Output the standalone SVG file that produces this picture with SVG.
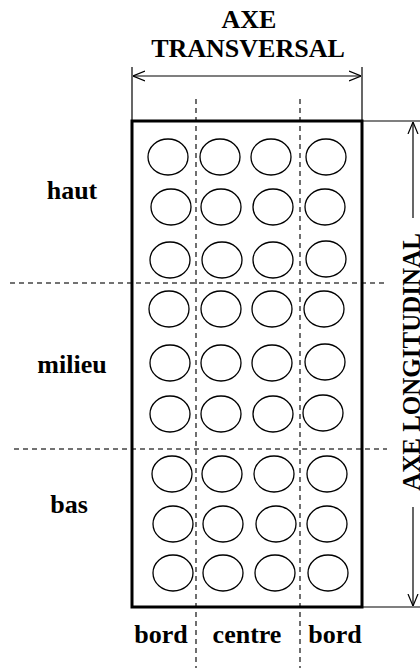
<svg xmlns="http://www.w3.org/2000/svg" width="420" height="668" viewBox="0 0 420 668">
<defs>
<style>
.t{font-family:"Liberation Serif","Times New Roman",serif;font-weight:bold;font-size:26px;fill:#000;text-anchor:middle}
.c{fill:none;stroke:#000;stroke-width:1.3}
.dv{stroke:#222;stroke-width:1.3;stroke-dasharray:5 4;fill:none}
.dh{stroke:#444;stroke-width:1.3;stroke-dasharray:5 4;fill:none}
.ln{stroke:#000;stroke-width:1.2;fill:none}
</style>
<marker id="ah" viewBox="0 0 12 12" refX="12" refY="6" markerWidth="12" markerHeight="12" markerUnits="userSpaceOnUse" orient="auto-start-reverse">
<path d="M0,1 L12,6 L0,11" fill="none" stroke="#000" stroke-width="1.2"/>
</marker>
</defs>
<rect width="420" height="668" fill="#fff"/>
<g id="grid-lines">
<line class="dv" x1="196" y1="99" x2="196" y2="668"/>
<line class="dv" x1="300" y1="99" x2="300" y2="668"/>
<line class="dh" x1="10" y1="283" x2="387" y2="283"/>
<line class="dh" x1="14" y1="449" x2="387" y2="449"/>
</g>
<g id="plate">
<rect x="132" y="121" width="230" height="486" fill="none" stroke="#000" stroke-width="3"/>
</g>
<g id="cells">
<ellipse class="c" cx="168" cy="157" rx="20" ry="18"/><ellipse class="c" cx="220" cy="157" rx="20" ry="18"/><ellipse class="c" cx="271" cy="157" rx="20" ry="18"/><ellipse class="c" cx="326" cy="157" rx="20" ry="18"/>
<ellipse class="c" cx="171" cy="207" rx="20" ry="18"/><ellipse class="c" cx="221" cy="207" rx="20" ry="18"/><ellipse class="c" cx="273" cy="207" rx="20" ry="18"/><ellipse class="c" cx="325" cy="207" rx="20" ry="18"/>
<ellipse class="c" cx="170" cy="260" rx="20" ry="18"/><ellipse class="c" cx="222" cy="260" rx="20" ry="18"/><ellipse class="c" cx="273" cy="260" rx="20" ry="18"/><ellipse class="c" cx="326" cy="259" rx="20" ry="18"/>
<ellipse class="c" cx="169" cy="309" rx="20" ry="18"/><ellipse class="c" cx="221" cy="309" rx="20" ry="18"/><ellipse class="c" cx="272" cy="309" rx="20" ry="18"/><ellipse class="c" cx="324" cy="309" rx="20" ry="18"/>
<ellipse class="c" cx="170" cy="363" rx="20" ry="18"/><ellipse class="c" cx="221" cy="363" rx="20" ry="18"/><ellipse class="c" cx="272" cy="363" rx="20" ry="18"/><ellipse class="c" cx="325" cy="362" rx="20" ry="18"/>
<ellipse class="c" cx="170" cy="414" rx="20" ry="18"/><ellipse class="c" cx="221" cy="414" rx="20" ry="18"/><ellipse class="c" cx="273" cy="414" rx="20" ry="18"/><ellipse class="c" cx="323" cy="413" rx="20" ry="18"/>
<ellipse class="c" cx="172" cy="474" rx="20" ry="18"/><ellipse class="c" cx="222" cy="474" rx="20" ry="18"/><ellipse class="c" cx="274" cy="474" rx="20" ry="18"/><ellipse class="c" cx="327" cy="474" rx="20" ry="18"/>
<ellipse class="c" cx="173" cy="524" rx="20" ry="18"/><ellipse class="c" cx="223" cy="524" rx="20" ry="18"/><ellipse class="c" cx="276" cy="524" rx="20" ry="18"/><ellipse class="c" cx="327" cy="524" rx="20" ry="18"/>
<ellipse class="c" cx="173" cy="573" rx="20" ry="18"/><ellipse class="c" cx="223" cy="573" rx="20" ry="18"/><ellipse class="c" cx="275" cy="573" rx="20" ry="18"/><ellipse class="c" cx="328" cy="573" rx="20" ry="18"/>
</g>
<g id="connectors">
<line class="ln" x1="132" y1="67" x2="132" y2="121"/>
<line class="ln" x1="362" y1="67" x2="362" y2="121"/>
<line class="ln" x1="133" y1="76" x2="361" y2="76" marker-start="url(#ah)" marker-end="url(#ah)"/>
<line class="ln" x1="362" y1="121" x2="420" y2="121"/>
<line class="ln" x1="362" y1="607" x2="420" y2="607"/>
<line class="ln" x1="413" y1="122" x2="413" y2="218" marker-start="url(#ah)"/>
<line class="ln" x1="413" y1="507" x2="413" y2="606" marker-end="url(#ah)"/>
</g>
<g id="labels">
<text class="t" x="249" y="28">AXE</text>
<text class="t" x="248" y="57">TRANSVERSAL</text>
<text class="t" x="72" y="199">haut</text>
<text class="t" x="72" y="373">milieu</text>
<text class="t" x="69" y="513">bas</text>
<text class="t" x="161" y="643">bord</text>
<text class="t" x="247" y="643">centre</text>
<text class="t" x="335" y="643">bord</text>
<text class="t" style="font-size:25px" transform="translate(420,362) rotate(-90)">AXE LONGITUDINAL</text>
</g>
</svg>
